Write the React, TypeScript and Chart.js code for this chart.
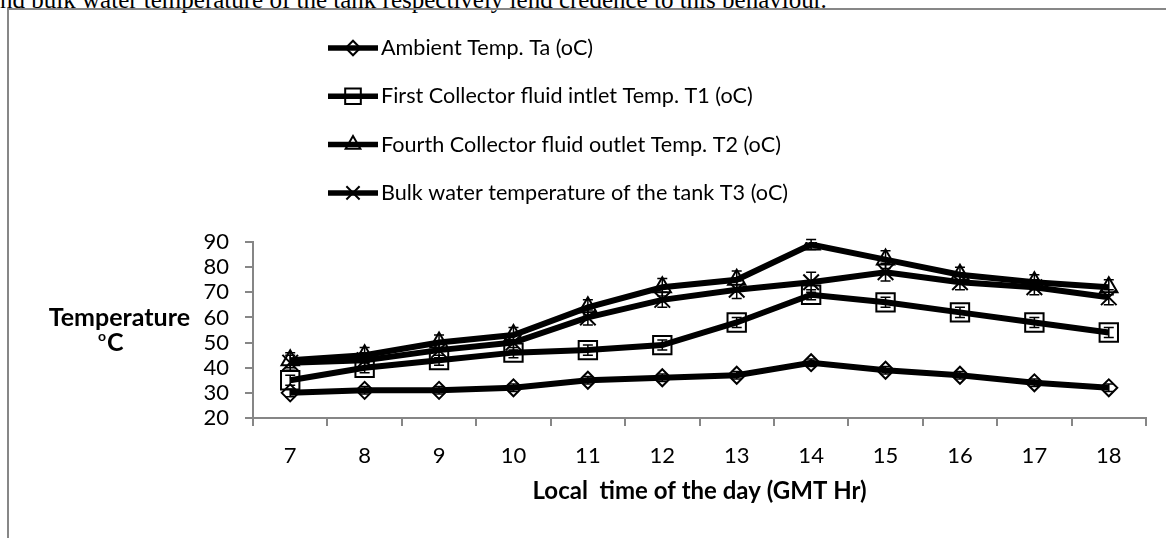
import React, { useEffect, useRef } from "react";
import { Chart, registerables } from "chart.js";
import { drawPoint } from "chart.js/helpers";

Chart.register(...registerables);

const hours = ["7", "8", "9", "10", "11", "12", "13", "14", "15", "16", "17", "18"];
const ambientTa = [30, 31, 31, 32, 35, 36, 37, 42, 39, 37, 34, 32];
const inletT1 = [35, 40, 43, 46, 47, 49, 58, 69, 66, 62, 58, 54];
const outletT2 = [43, 45, 50, 53, 64, 72, 75, 89, 83, 77, 74, 72];
const tankT3 = [42, 43, 47, 50, 60, 67, 71, 74, 78, 74, 72, 68];
const ambientErr = [1.5, 1.5, 1.5, 1.5, 1.5, 1.5, 1.5, 1.5, 1.5, 1.5, 1.5, 1.5];
const inletErr = [2, 2, 2, 2, 2, 2, 2, 2, 2, 2, 2, 2];
const outletErr = [3, 3, 3, 3, 3, 3.5, 3.5, 2, 3.5, 3, 3, 3];
const tankErr = [3, 3, 3, 3, 3, 3, 3.5, 4, 3.5, 3, 3, 3];
const legendLabels = [
  "Ambient Temp. Ta (oC)",
  "First Collector fluid intlet Temp. T1 (oC)",
  "Fourth Collector fluid outlet Temp. T2 (oC)",
  "Bulk water temperature of the tank T3 (oC)",
];
const yMin = 20;
const yMax = 90;
const yStep = 10;

const FONT = "Lato";

const errorBarPlugin = {
  id: "errorBars",
  afterDatasetsDraw(chart: any) {
    const ctx = chart.ctx;
    const yScale = chart.scales.y;
    chart.data.datasets.forEach((ds: any, di: number) => {
      const meta = chart.getDatasetMeta(di);
      const errs: number[] = ds.errors || [];
      meta.data.forEach((pt: any, i: number) => {
        const v = ds.data[i];
        const e = errs[i] || 0;
        const y1 = yScale.getPixelForValue(v - e);
        const y2 = yScale.getPixelForValue(v + e);
        ctx.save();
        ctx.strokeStyle = "#000";
        ctx.lineWidth = 1.5;
        ctx.beginPath();
        ctx.moveTo(pt.x, y1);
        ctx.lineTo(pt.x, y2);
        ctx.moveTo(pt.x - 5, y1);
        ctx.lineTo(pt.x + 5, y1);
        ctx.moveTo(pt.x - 5, y2);
        ctx.lineTo(pt.x + 5, y2);
        ctx.stroke();
        ctx.restore();
      });
    });
  },
};

const decorPlugin = {
  id: "decor",
  afterDraw(chart: any) {
    const ctx = chart.ctx;
    const area = chart.chartArea;
    ctx.save();
    // legend
    chart.data.datasets.forEach((ds: any, i: number) => {
      const y = 48 + i * 48.3;
      ctx.strokeStyle = "#000";
      ctx.lineWidth = 5.5;
      ctx.beginPath();
      ctx.moveTo(328, y);
      ctx.lineTo(378, y);
      ctx.stroke();
      ctx.lineWidth = 2;
      ctx.strokeStyle = "#000";
      ctx.fillStyle = "rgba(0,0,0,0)";
      drawPoint(ctx, { pointStyle: ds.pointStyle, radius: ds.pointRadius * 0.85, borderWidth: 2, rotation: 0 }, 353, y);
      ctx.fillStyle = "#000";
      ctx.font = `21.6px ${FONT}`;
      ctx.textAlign = "left";
      ctx.textBaseline = "middle";
      ctx.fillText(ds.label, 381, y);
    });
    // y title
    ctx.fillStyle = "#000";
    ctx.font = `bold 25px ${FONT}`;
    ctx.textAlign = "right";
    ctx.textBaseline = "middle";
    ctx.fillText("Temperature", 190, 318);
    ctx.textAlign = "left";
    ctx.font = `bold 14px ${FONT}`;
    ctx.fillText("o", 98, 336);
    ctx.font = `bold 25px ${FONT}`;
    ctx.fillText("C", 107, 343);
    // x title
    ctx.textAlign = "center";
    ctx.font = `bold 24px ${FONT}`;
    ctx.fillText("Local  time of the day (GMT Hr)", (area.left + area.right) / 2, 491);
    ctx.restore();
  },
};

export default function App() {
  const ref = useRef<HTMLCanvasElement | null>(null);
  useEffect(() => {
    if (!ref.current) return;
    const common = { borderColor: "#000", backgroundColor: "rgba(0,0,0,0)", borderWidth: 6, pointBorderWidth: 2, pointBorderColor: "#000", pointBackgroundColor: "rgba(0,0,0,0)", tension: 0 };
    const chart = new Chart(ref.current, {
      type: "line",
      data: {
        labels: hours,
        datasets: [
          { ...common, label: legendLabels[0], data: ambientTa, errors: ambientErr, pointStyle: "rectRot", pointRadius: 8.5 } as any,
          { ...common, label: legendLabels[1], data: inletT1, errors: inletErr, pointStyle: "rect", pointRadius: 13 } as any,
          { ...common, label: legendLabels[2], data: outletT2, errors: outletErr, pointStyle: "triangle", pointRadius: 10 } as any,
          { ...common, label: legendLabels[3], data: tankT3, errors: tankErr, pointStyle: "crossRot", pointRadius: 11 } as any,
        ],
      },
      options: {
        animation: false,
        responsive: false,
        layout: { padding: { top: 242, left: 0, right: 20, bottom: 0 } },
        plugins: { legend: { display: false }, tooltip: { enabled: false } },
        scales: {
          x: {
            offset: true,
            grid: { offset: true, drawOnChartArea: false, drawTicks: true, tickLength: 8, color: "#868686", lineWidth: 2 },
            border: { display: true, color: "#868686", width: 2 },
            ticks: { color: "#000", font: { family: FONT, size: 22 }, padding: 17, autoSkip: false, maxRotation: 0 },
            afterFit: (s: any) => { s.height = 120; },
          },
          y: {
            min: yMin,
            max: yMax,
            grid: { drawOnChartArea: false, drawTicks: true, tickLength: 8, color: "#868686", lineWidth: 2 },
            border: { display: true, color: "#868686", width: 2 },
            ticks: { color: "#000", font: { family: FONT, size: 22 }, padding: 16, stepSize: yStep, autoSkip: false },
            afterFit: (s: any) => { s.width = 253; },
          },
        },
      } as any,
      plugins: [errorBarPlugin, decorPlugin],
    });
    return () => chart.destroy();
  }, []);
  return (
    <div style={{ position: "absolute", left: 0, top: 0, width: 1166, height: 538, overflow: "hidden", background: "#fff" }}>
      <div
        style={{
          position: "absolute",
          left: -11,
          top: -13,
          whiteSpace: "nowrap",
          fontFamily: "'Liberation Serif', serif",
          fontSize: 25,
          lineHeight: "25px",
          color: "#000",
        }}
      >
        and bulk water temperature of the tank respectively lend credence to this behaviour.
      </div>
      <div style={{ position: "absolute", left: 7, top: 8, width: 1300, height: 700, border: "2px solid #878787", boxSizing: "border-box" }} />
      <canvas ref={ref} width={1166} height={538} style={{ position: "absolute", left: 0, top: 0, width: 1166, height: 538 }} />
    </div>
  );
}
